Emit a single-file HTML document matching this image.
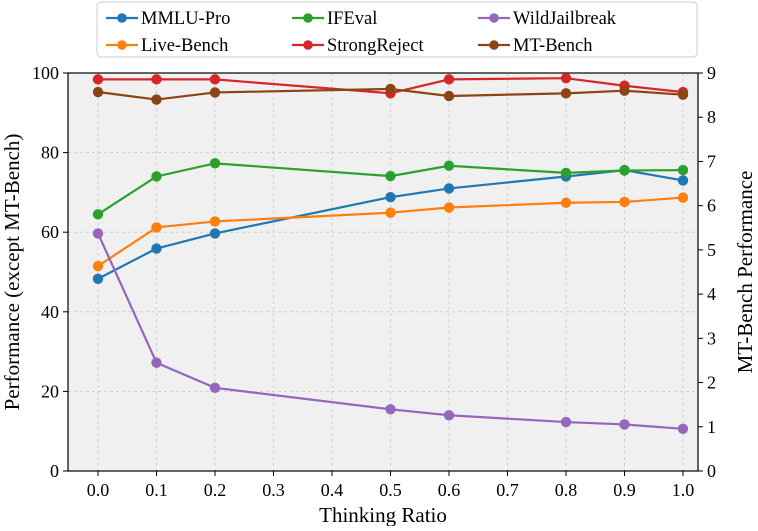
<!DOCTYPE html>
<html><head><meta charset="utf-8"><style>
body{margin:0;background:#fff;font-family:"Liberation Serif",serif}
svg text{font-family:"Liberation Serif",serif;fill:#000}
</style></head><body>
<svg id="c" width="758" height="526"></svg>
<script>
const xs=[0.0,0.1,0.2,0.5,0.6,0.8,0.9,1.0];
const xTicks=[0,0.1,0.2,0.3,0.4,0.5,0.6,0.7,0.8,0.9,1.0];
const yTicks=[0,20,40,60,80,100];
const y2Ticks=[0,1,2,3,4,5,6,7,8,9];
const mmlu=[48.3,55.9,59.7,68.8,71.0,74.0,75.6,73.0];
const live=[51.5,61.2,62.7,64.9,66.2,67.4,67.6,68.7];
const ifeval=[64.5,74.0,77.3,74.1,76.7,74.9,75.5,75.6];
const strong=[98.4,98.4,98.4,94.9,98.4,98.7,96.8,95.2];
const wild=[59.7,27.2,20.9,15.5,14.0,12.3,11.7,10.6];
const mt=[8.57,8.40,8.56,8.64,8.48,8.54,8.60,8.51];
const L=68,R=698,T=73,B=471;
const X=v=>98+(683-98)*v, Y=v=>B-(B-T)*v/100, Y2=v=>B-(B-T)*v/9;
const svg=document.getElementById('c'),NS='http://www.w3.org/2000/svg';
function mk(t,a,p){const e=document.createElementNS(NS,t);for(const k in a)e.setAttribute(k,a[k]);(p||svg).appendChild(e);return e;}
const bg=mk('rect',{x:L,y:T,width:R-L,height:B-T,fill:'#f0f0f0'});


xTicks.forEach(t=>{const g=mk('line',{x1:X(t),x2:X(t),y1:T,y2:B,stroke:'#c8c8c8','stroke-dasharray':'3,3','stroke-width':0.8});

mk('line',{x1:X(t),x2:X(t),y1:B,y2:B+5,stroke:'#000'});
const tx=mk('text',{x:X(t),y:B+25,'text-anchor':'middle','font-size':18});tx.textContent=t.toFixed(1);
});
yTicks.forEach(t=>{if(t>0&&t<100){const g=mk('line',{x1:L,x2:R,y1:Y(t),y2:Y(t),stroke:'#c8c8c8','stroke-dasharray':'3,3','stroke-width':0.8});
}
mk('line',{x1:L-5,x2:L,y1:Y(t),y2:Y(t),stroke:'#000'});
const tx=mk('text',{x:L-9,y:Y(t)+6,'text-anchor':'end','font-size':18});tx.textContent=t;
});
y2Ticks.forEach(t=>{mk('line',{x1:R,x2:R+5,y1:Y2(t),y2:Y2(t),stroke:'#000'});
const tx=mk('text',{x:R+9,y:Y2(t)+6,'font-size':18});tx.textContent=t;
});
const fr=mk('rect',{x:L,y:T,width:R-L,height:B-T,fill:'none',stroke:'#000','stroke-width':1.2});

const series=[['mmlu-pro',mmlu,'#1f77b4',Y],['live-bench',live,'#ff7f0e',Y],['ifeval',ifeval,'#2ca02c',Y],['strongreject',strong,'#d62728',Y],['wildjailbreak',wild,'#9467bd',Y],['mt-bench',mt,'#8b4513',Y2]];
series.forEach(([n,d,c,f])=>{const g=mk('g',{});
const l=mk('polyline',{points:d.map((v,i)=>X(xs[i])+','+f(v)).join(' '),fill:'none',stroke:c,'stroke-width':2.2},g);

d.forEach((v,i)=>{const p=mk('circle',{cx:X(xs[i]),cy:f(v),r:5.2,fill:c},g);});});
const xl=mk('text',{x:383,y:522,'text-anchor':'middle','font-size':21});xl.textContent='Thinking Ratio';

const yl=mk('text',{x:0,y:0,'text-anchor':'middle','font-size':21,transform:'translate(19,272) rotate(-90)'});yl.textContent='Performance (except MT-Bench)';

const y2l=mk('text',{x:0,y:0,'text-anchor':'middle','font-size':21,transform:'translate(752,272) rotate(-90)'});y2l.textContent='MT-Bench Performance';

const lg=mk('g',{});
mk('rect',{x:97,y:2,width:600,height:55,rx:4,fill:'#fff',stroke:'#ccc'},lg);
const names=['MMLU-Pro','IFEval','WildJailbreak','Live-Bench','StrongReject','MT-Bench'];
const cols=['#1f77b4','#2ca02c','#9467bd','#ff7f0e','#d62728','#8b4513'];
names.forEach((n,i)=>{const cx=106+(i%3)*186,cy=18+Math.floor(i/3)*27;
const e=mk('g',{},lg);
mk('line',{x1:cx,x2:cx+32,y1:cy,y2:cy,stroke:cols[i],'stroke-width':2.2},e);
mk('circle',{cx:cx+16,cy:cy,r:4.8,fill:cols[i]},e);
const t=mk('text',{x:cx+35,y:cy+6,'font-size':18.5},e);t.textContent=n;});
</script>
</body></html>
